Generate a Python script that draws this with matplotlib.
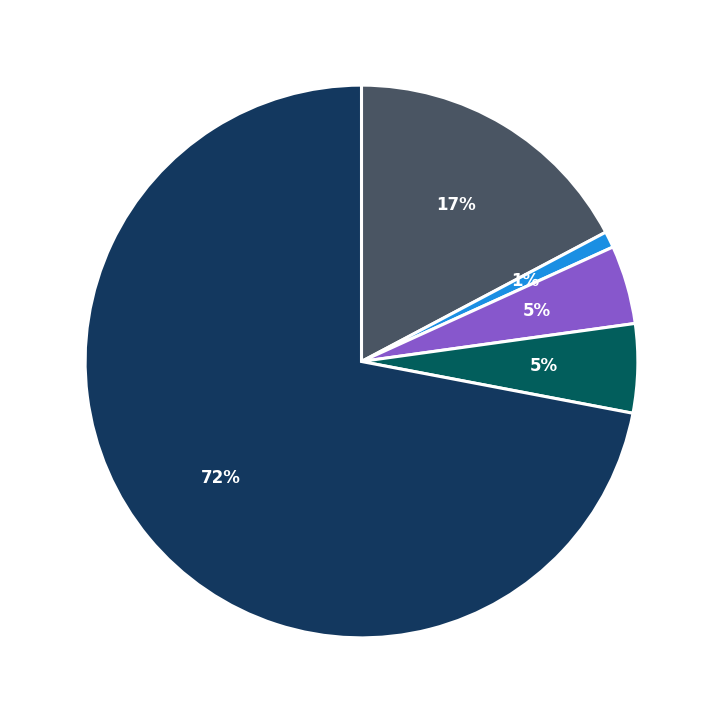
import matplotlib
matplotlib.use("Agg")
import matplotlib.pyplot as plt

labels = ["A", "B", "C", "D", "E"]
values = [17.25, 0.95, 4.6, 5.2, 72.0]
colors = ["#4a5563", "#1a8fe3", "#8757cc", "#025e5c", "#13385f"]

fig = plt.figure(figsize=(7.23, 7.23), dpi=100)
ax = fig.add_axes([0, 0, 1, 1])
wedges, texts, autotexts = ax.pie(values, colors=colors, startangle=90, counterclock=False,
       autopct='%.0f%%', pctdistance=0.66,
       wedgeprops=dict(edgecolor="white", linewidth=2.2),
       textprops=dict(color="white", fontsize=12, fontweight="bold"))
ax.set_xlim(-1.308, 1.308)
ax.set_ylim(-1.308, 1.308)
ax.set_aspect("equal")
ax.axis("off")
fig.savefig("out.png", dpi=100)
